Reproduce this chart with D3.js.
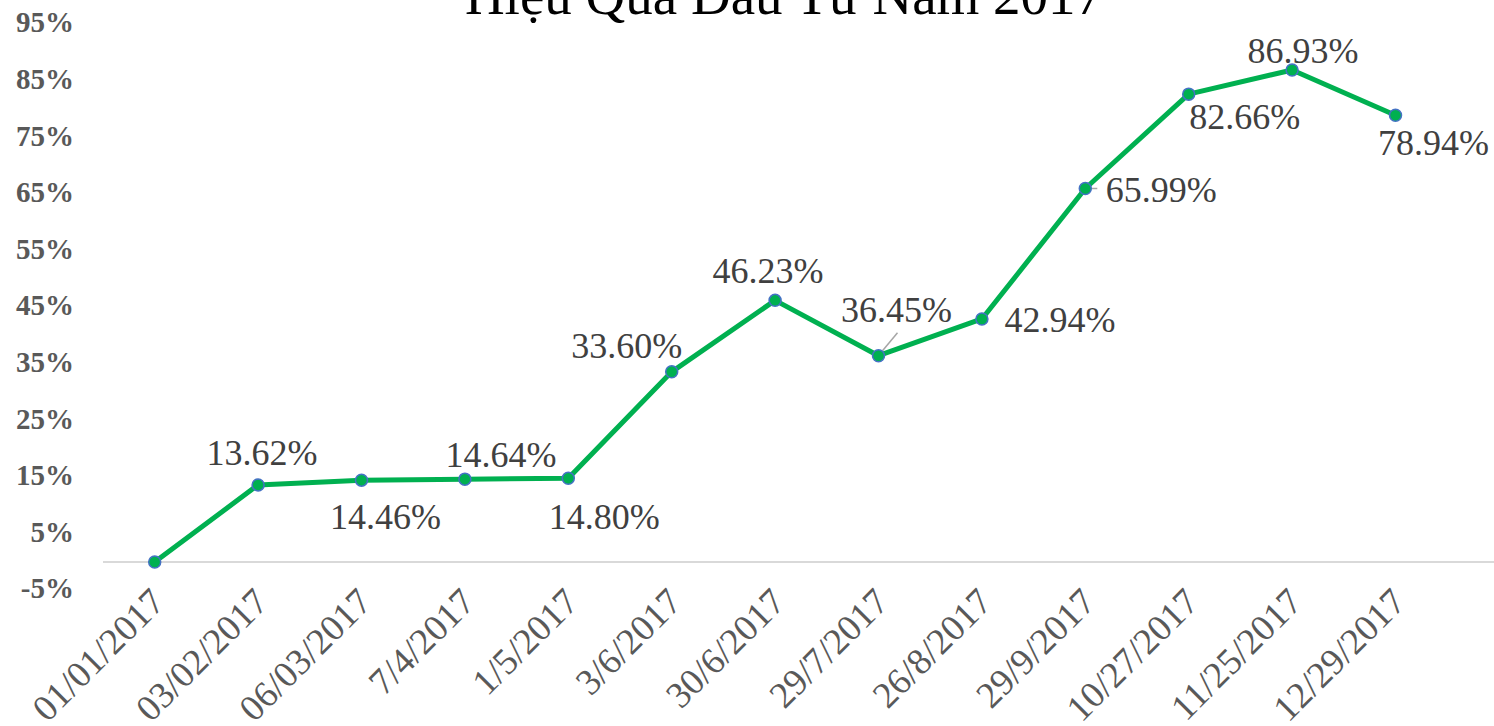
<!DOCTYPE html>
<html>
<head>
<meta charset="utf-8">
<script src="https://cdn.jsdelivr.net/npm/d3@7/dist/d3.min.js"></script>
<style>
html,body{margin:0;padding:0;background:#fff;overflow:hidden;}
svg{display:block;}
</style>
</head>
<body>
<svg id="chart" width="1494" height="726"></svg>
<script>
// ---- data ----
const categories = ["01/01/2017","03/02/2017","06/03/2017","7/4/2017","1/5/2017","3/6/2017","30/6/2017","29/7/2017","26/8/2017","29/9/2017","10/27/2017","11/25/2017","12/29/2017"];
const values = [0, 13.62, 14.46, 14.64, 14.80, 33.60, 46.23, 36.45, 42.94, 65.99, 82.66, 86.93, 78.94];
const valueLabels = ["", "13.62%", "14.46%", "14.64%", "14.80%", "33.60%", "46.23%", "36.45%", "42.94%", "65.99%", "82.66%", "86.93%", "78.94%"];
const yTicks = [-5, 5, 15, 25, 35, 45, 55, 65, 75, 85, 95];
const title = "Hiệu Quả Đầu Tư Năm 2017";

// ---- layout (label offsets relative to point) ----
const labelOffsets = [null,[4,-20],[24,49],[36,-12],[36,51],[-45,-14],[-7,-17],[18,-34],[78,13],[76,14],[56,35],[11,-7],[38,40]];
const leaders = {7:[[4,-5],[19,-23]], 9:[[6,0],[12,0]]};

const svg = d3.select("#chart");
const x = d3.scaleBand().domain(categories).range([103, 103 + 13*103.4]);
const y = d3.scaleLinear().domain([-5, 95]).range([562 + 5*5.66, 562 - 95*5.66]);
const cx = d => x(d) + x.bandwidth()/2;
const serif = "'Liberation Serif','Times New Roman',serif";

// title
svg.append("text").attr("x", 784).attr("y", 14).attr("text-anchor","middle")
  .style("font-family",serif).style("font-size","55px").attr("fill","#000")
  .text(title);

// zero line
svg.append("line").attr("x1",103).attr("x2",1494).attr("y1",y(0)).attr("y2",y(0))
  .attr("stroke","#d9d9d9").attr("stroke-width",2);

// y axis labels
svg.append("g").selectAll("text").data(yTicks).join("text")
  .attr("x", 74).attr("y", d => y(d) + 8).attr("text-anchor","end")
  .style("font-family",serif).style("font-size","29px").style("font-weight","bold")
  .attr("fill","#595959").text(d => d + "%");

// x axis labels
svg.append("g").selectAll("text").data(categories).join("text")
  .attr("transform", d => `translate(${cx(d)+12},${604}) rotate(-45)`)
  .attr("text-anchor","end")
  .style("font-family",serif).style("font-size","37px")
  .attr("fill","#595959").text(d => d);

// line
const line = d3.line().x((d,i) => cx(categories[i])).y(d => y(d));
svg.append("path").datum(values).attr("d", line).attr("fill","none")
  .attr("stroke","#00B050").attr("stroke-width",5).attr("stroke-linejoin","round");

// leader lines
Object.keys(leaders).forEach(k => {
  const i = +k, px = cx(categories[i]), py = y(values[i]);
  const [a,b] = leaders[k];
  svg.append("line").attr("x1",px+a[0]).attr("y1",py+a[1]).attr("x2",px+b[0]).attr("y2",py+b[1])
    .attr("stroke","#a6a6a6").attr("stroke-width",1.5);
});

// markers
svg.append("g").selectAll("circle").data(values).join("circle")
  .attr("cx",(d,i)=>cx(categories[i])).attr("cy",d=>y(d)).attr("r",6)
  .attr("fill","#00B050").attr("stroke","#4472C4").attr("stroke-width",1.5);

// data labels
const labelData = values.map((v,i)=>({v, i, cat: categories[i], label: valueLabels[i], off: labelOffsets[i]})).filter(d=>d.off);
svg.append("g").selectAll("text").data(labelData).join("text")
  .attr("x",d=>cx(d.cat) + d.off[0])
  .attr("y",d=>y(d.v) + d.off[1])
  .attr("text-anchor","middle")
  .style("font-family",serif).style("font-size","36px")
  .attr("fill","#404040").text(d=>d.label);
</script>
</body>
</html>
